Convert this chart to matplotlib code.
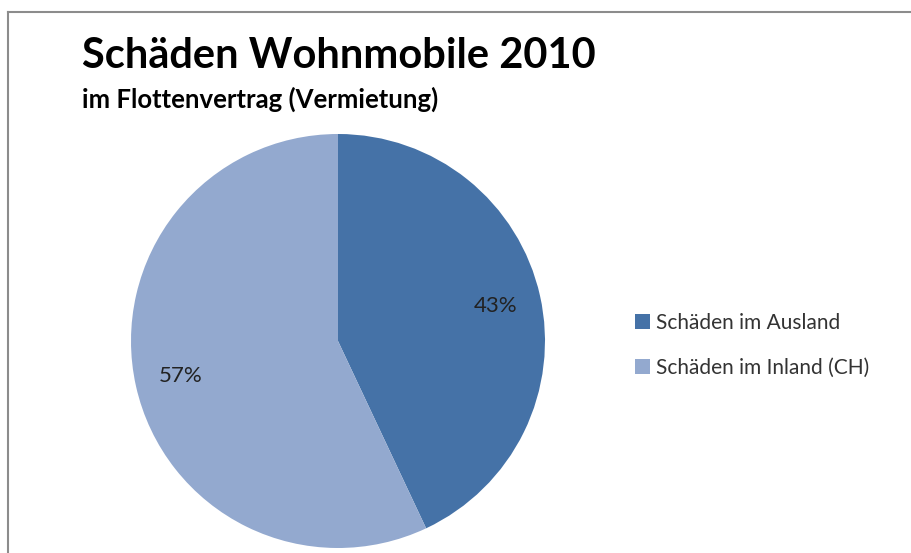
import numpy as np
import matplotlib.pyplot as plt
from matplotlib.lines import Line2D

labels = ['Schäden im Ausland', 'Schäden im Inland (CH)']
shares = [43, 57]
colors = ['#4572A7', '#93A9CF']
title = 'Schäden Wohnmobile 2010'
subtitle = 'im Flottenvertrag (Vermietung)'

W, H = 912, 553
fig = plt.figure(figsize=(W / 100, H / 100), dpi=100)
fig.patch.set_facecolor('white')

# frame of the chart area (right and bottom edges are cut off)
fig.add_artist(Line2D([8 / W, 8 / W], [0, 1 - 12 / H], color='#8c8c8c', lw=1.5))
fig.add_artist(Line2D([8 / W, 1], [1 - 12 / H, 1 - 12 / H], color='#8c8c8c', lw=1.5))

fig.text(82 / W, 1 - 68 / H, title, fontsize=30, fontweight='bold',
         family='Lato', color='black', va='baseline')
fig.text(82 / W, 1 - 108 / H, subtitle, fontsize=18.5, fontweight='bold',
         family='Lato', color='black', va='baseline')

ax = fig.add_axes([131 / W, 5 / H, 414 / W, 414 / H])
wedges, texts, autotexts = ax.pie(shares, colors=colors, startangle=90,
                                  counterclock=False, autopct='%d%%',
                                  pctdistance=0.78,
                                  textprops=dict(fontsize=16, color='#222222',
                                                 family='Lato'))
ax.set_aspect('equal')
ax.set_xlim(-1, 1)
ax.set_ylim(-1, 1)

fig.legend(wedges, labels, loc='upper left', bbox_to_anchor=(616 / W, 1 - 294 / H),
           frameon=False, prop=dict(family='Lato', size=15), labelcolor='#333333',
           handlelength=0.75, handleheight=0.75, handletextpad=0.25, labelspacing=1.2)

fig.savefig('out.png', dpi=100)
